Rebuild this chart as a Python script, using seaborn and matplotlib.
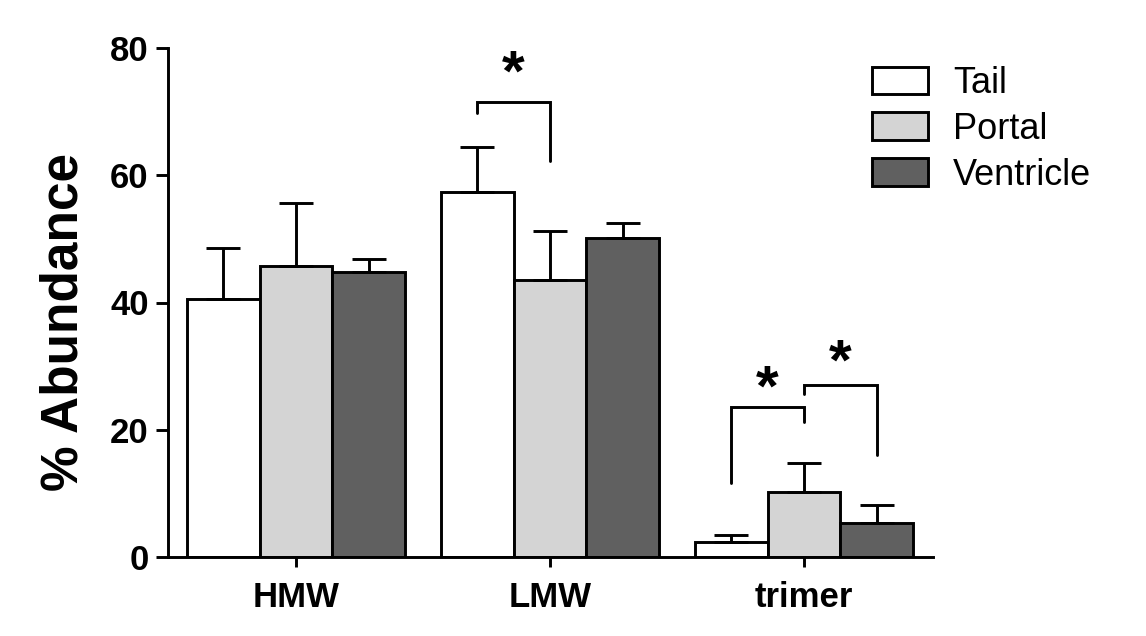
import matplotlib
matplotlib.use("Agg")
import matplotlib.pyplot as plt
import seaborn as sns
import pandas as pd

# values
groups = ["HMW", "LMW", "trimer"]
regions = ["Tail", "Portal", "Ventricle"]
tail = [40.6, 57.3, 2.4]
portal = [45.7, 43.5, 10.2]
ventricle = [44.8, 50.1, 5.3]
tail_err = [8.0, 7.1, 1.1]
portal_err = [9.9, 7.7, 4.5]
ventricle_err = [2.1, 2.4, 2.9]

# significance brackets: (group, bar a, bar b, bracket height, a foot, b foot, star height)
brackets = [
    (1, 0, 1, 71.5, 69.8, 62.2, 75.7),
    (2, 0, 1, 23.6, 11.6, 21.2, 26.2),
    (2, 1, 2, 27.0, 25.6, 16.0, 30.2),
]

colors = ["#ffffff", "#d4d4d4", "#606060"]

rows = []
for name, vals, errs in [("Tail", tail, tail_err), ("Portal", portal, portal_err),
                         ("Ventricle", ventricle, ventricle_err)]:
    for g, v, e in zip(groups, vals, errs):
        rows.append({"group": g, "region": name, "value": v, "err": e})
df = pd.DataFrame(rows)

sns.set_style("ticks")
plt.rcParams["font.family"] = ["Liberation Sans", "DejaVu Sans"]
for key in ["text.color", "axes.labelcolor", "xtick.color", "ytick.color", "axes.edgecolor"]:
    plt.rcParams[key] = "black"

fig = plt.figure(figsize=(11.46, 6.36), dpi=100)
ax = fig.add_axes([168 / 1146, 1 - 557 / 636, (933 - 168) / 1146, (557 - 48) / 636])

lw = 2.1
sns.barplot(data=df, x="group", y="value", hue="region", hue_order=regions,
            palette=colors, width=0.858, edgecolor="black", linewidth=lw,
            errorbar=None, ax=ax, saturation=1)

# upper-only error bars, placed on the bars seaborn drew
centers = {}
for k, (cont, name) in enumerate(zip(ax.containers, regions)):
    sub = df[df.region == name].set_index("group").loc[groups]
    for i, bar in enumerate(cont):
        cx = bar.get_x() + bar.get_width() / 2
        centers[(i, k)] = cx
        ax.errorbar(cx, sub["value"].iloc[i], yerr=[[0], [sub["err"].iloc[i]]],
                    fmt="none", ecolor="black", elinewidth=lw, capsize=12.5,
                    capthick=lw, zorder=1)

for g, a, b, h, fa, fb, sy in brackets:
    xa, xb = centers[(g, a)], centers[(g, b)]
    ax.plot([xa, xa, xb, xb], [fa, h, h, fb], color="black", lw=lw,
            solid_joinstyle="miter", clip_on=False)
    ax.text((xa + xb) / 2, sy, "*", ha="center", va="center", fontsize=42,
            fontweight="bold")

ax.set_ylim(0, 80)
ax.set_xlim(-0.504, 2.508)
ax.set_yticks([0, 20, 40, 60, 80])
ax.set_xlabel("")
ax.set_ylabel("% Abundance", fontsize=37, fontweight="bold")
ax.yaxis.set_label_coords(-0.104, 0.462)
sns.despine(ax=ax)
for s in ["left", "bottom"]:
    ax.spines[s].set_linewidth(lw)
ax.tick_params(axis="y", length=9, width=lw, labelsize=25, pad=5)
ax.tick_params(axis="x", length=7, width=lw, labelsize=25, pad=10)
for t in ax.get_xticklabels() + ax.get_yticklabels():
    t.set_fontweight("bold")

handles, labels = ax.get_legend_handles_labels()
ax.legend(handles, labels, loc="upper left", bbox_to_anchor=(872 / 1146, 1 - 66 / 636),
          bbox_transform=fig.transFigure, frameon=False, fontsize=26,
          handlelength=1.55, handleheight=0.8, labelspacing=0.3, handletextpad=0.7,
          borderpad=0, borderaxespad=0)

fig.savefig("out.png", dpi=100)
